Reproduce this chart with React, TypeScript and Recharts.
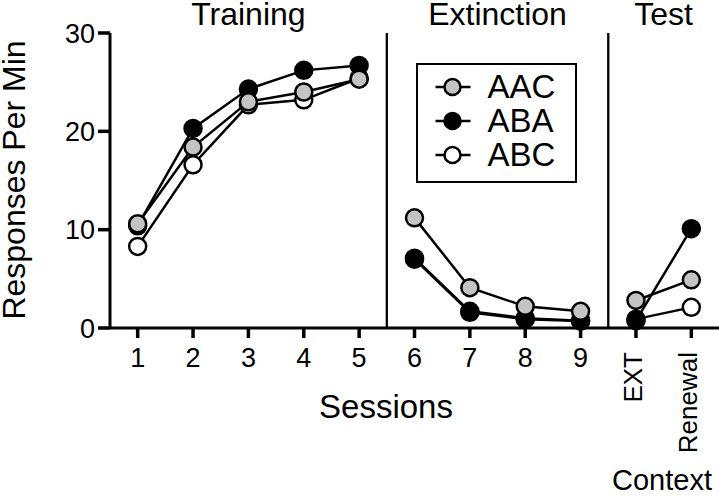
import React from 'react';
import {
  LineChart,
  Line,
  XAxis,
  YAxis,
  ReferenceLine,
  ReferenceArea,
  Legend,
  Customized,
} from 'recharts';

// tick labels along the x axis, one per session
const sessions = ['1', '2', '3', '4', '5', '6', '7', '8', '9', 'EXT', 'Renewal'];
const sectionTitles = ['Training', 'Extinction', 'Test'];
// position (1-based) of the last session of each section
const sectionLast = [5, 9, 11];
const yTicks = [0, 10, 20, 30];

// responses per min
const aac = [10.6, 18.4, 23.0, 24.0, 25.3, 11.2, 4.1, 2.2, 1.7, 2.8, 4.9];
const aba = [10.4, 20.3, 24.3, 26.2, 26.7, 7.1, 1.7, 1.0, 0.75, 0.75, 10.1];
const abc = [8.3, 16.6, 22.7, 23.2, 25.4, 7.0, 1.6, 0.9, 0.7, 0.9, 2.1];

const groupNames = ['AAC', 'ABA', 'ABC'];
const groupFills: Record<string, string> = { AAC: '#c4c4c4', ABA: '#000000', ABC: '#ffffff' };

const FONT = '"Liberation Sans", Arial, Helvetica, sans-serif';

// one row per session, plus an empty row between sections so the lines break
const rows: any[] = [];
sessions.forEach((_, i) => {
  const pos = i + 1;
  rows.push({ pos, AAC: aac[i], ABA: aba[i], ABC: abc[i] });
  if (sectionLast.includes(pos) && pos !== sessions.length) {
    rows.push({ pos: pos + 0.5, AAC: null, ABA: null, ABC: null });
  }
});

const sectionBounds = sectionLast.map((last, i) => [
  i === 0 ? 0.5 : sectionLast[i - 1] + 0.5,
  last + 0.5,
]);

const SessionTick = (props: any) => {
  const { x, y, payload } = props;
  const label = sessions[Math.round(payload.value) - 1];
  if (label === undefined) return null;
  if (isNaN(Number(label))) {
    const ax = x + 6;
    const ay = y + 12;
    return (
      <text
        x={ax}
        y={ay}
        transform={`rotate(-90 ${ax} ${ay})`}
        textAnchor="end"
        fontSize={26}
        fill="#000"
      >
        {label}
      </text>
    );
  }
  return (
    <text x={x} y={y + 27} textAnchor="middle" fontSize={27} fill="#000">
      {label}
    </text>
  );
};

const LegendBox = (props: any) => {
  const payload = props.payload || [];
  const items = groupNames.filter((n) => payload.some((p: any) => p.value === n));
  return (
    <div
      style={{
        boxSizing: 'border-box',
        width: 161,
        height: 120,
        border: '2.5px solid #000',
        paddingTop: 4.5,
        background: '#fff',
        fontFamily: FONT,
      }}
    >
      {items.map((name) => (
        <div key={name} style={{ display: 'flex', alignItems: 'center', height: 34 }}>
          <svg width={60} height={34} style={{ display: 'block' }}>
            <line x1={17.5} y1={17} x2={52.5} y2={17} stroke="#000" strokeWidth={2.5} />
            <circle cx={34.5} cy={17} r={8} fill={groupFills[name]} stroke="#000" strokeWidth={2.5} />
          </svg>
          <span style={{ marginLeft: 9.5, fontSize: 33, lineHeight: '34px', color: '#000' }}>{name}</span>
        </div>
      ))}
    </div>
  );
};

const AxisTitles = () => (
  <g fill="#000" style={{ fontFamily: FONT }}>
    <text x={25} y={180} transform="rotate(-90 25 180)" textAnchor="middle" fontSize={32}>
      Responses Per Min
    </text>
    <text x={386} y={418} textAnchor="middle" fontSize={33}>
      Sessions
    </text>
    <text x={662} y={490} textAnchor="middle" fontSize={29}>
      Context
    </text>
  </g>
);

export default function App() {
  const drawOrder = ['ABC', 'ABA', 'AAC'];
  return (
    <div style={{ position: 'absolute', left: 0, top: 0, width: 719, height: 496, background: '#fff', fontFamily: FONT }}>
      <LineChart
        width={719}
        height={496}
        data={rows}
        margin={{ top: 33, right: 0, bottom: 138, left: 0 }}
      >
        <XAxis
          type="number"
          dataKey="pos"
          domain={[0.5, 11.5]}
          ticks={sessions.map((_, i) => i + 1)}
          interval={0}
          height={30}
          tick={<SessionTick />}
          tickSize={10}
          tickMargin={2}
          axisLine={{ stroke: '#000', strokeWidth: 3 }}
          tickLine={{ stroke: '#000', strokeWidth: 3.5 }}
        />
        <YAxis
          type="number"
          domain={[0, 30]}
          ticks={yTicks}
          width={110}
          tickSize={12}
          tickMargin={3}
          tick={{ fontSize: 27, fill: '#000' }}
          axisLine={{ stroke: '#000', strokeWidth: 3 }}
          tickLine={{ stroke: '#000', strokeWidth: 3.5 }}
        />
        {sectionBounds.map(([x1, x2], i) => (
          <ReferenceArea
            key={sectionTitles[i]}
            x1={x1}
            x2={x2}
            fill="none"
            fillOpacity={0}
            strokeWidth={0}
            label={{ value: sectionTitles[i], position: 'top', offset: 8, fontSize: 32, fill: '#000' }}
          />
        ))}
        {sectionLast.slice(0, -1).map((last) => (
          <ReferenceLine key={last} x={last + 0.5} stroke="#000" strokeWidth={2.3} />
        ))}
        {drawOrder.map((name) => (
          <Line
            key={name}
            dataKey={name}
            name={name}
            type="linear"
            stroke="#000"
            strokeWidth={2.5}
            dot={{ r: 8.5, fill: groupFills[name], stroke: '#000', strokeWidth: 2.5 }}
            activeDot={false}
            isAnimationActive={false}
          />
        ))}
        <Legend
          verticalAlign="middle"
          align="center"
          content={<LegendBox />}
          wrapperStyle={{ left: 416, top: 63, width: 161, height: 120 }}
        />
        <Customized component={<AxisTitles />} />
      </LineChart>
    </div>
  );
}
